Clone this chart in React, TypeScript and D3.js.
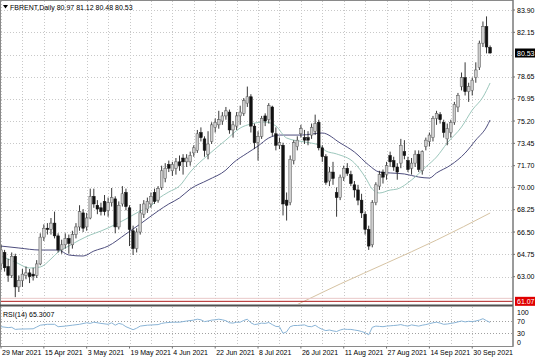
import React from "react";
import * as d3 from "d3";

// ---------- DATA ----------
const symbolTitle = "FBRENT,Daily 80.97 81.12 80.48 80.53";
const rsiTitle = "RSI(14) 65.3007";

const dateLabels = ["29 Mar 2021", "15 Apr 2021", "3 May 2021", "19 May 2021", "4 Jun 2021", "22 Jun 2021", "8 Jul 2021", "26 Jul 2021", "11 Aug 2021", "27 Aug 2021", "14 Sep 2021", "30 Sep 2021"];
const dateLabelBars = [0, 12, 24, 36, 48, 60, 72, 84, 96, 108, 120, 132];

const priceTicks = [83.9, 82.15, 78.65, 76.95, 75.2, 73.45, 71.7, 70.0, 68.25, 66.5, 64.75, 63.0];
const priceGridExtra = [80.4];
const lastPrice = 80.53;
const levelPrice = 61.07;
const rsiTicks = [100, 70, 30, 0];
const rsiLevels = [70, 30];

const opens = [64.0, 64.9, 63.8, 63.1, 64.6, 62.2, 62.7, 63.1, 63.3, 63.2,
  63.1, 64.0, 66.1, 66.8, 66.7, 67.2, 66.2, 65.1, 65.5, 66.0,
  65.5, 66.3, 66.9, 68.0, 66.9, 67.6, 69.3, 68.6, 68.4, 68.9,
  68.2, 68.8, 69.1, 66.9, 68.7, 69.6, 68.4, 66.6, 65.2, 66.5,
  67.9, 68.3, 68.7, 69.6, 69.0, 70.0, 70.7, 71.8, 71.3, 71.5,
  72.0, 72.3, 72.0, 72.0, 72.7, 72.9, 74.3, 73.8, 72.6, 73.6,
  74.7, 74.9, 75.2, 75.6, 75.9, 74.5, 74.8, 75.6, 75.8, 76.6,
  77.1, 74.8, 73.5, 74.0, 75.6, 75.3, 76.3, 74.2, 73.3, 73.3,
  69.0, 68.8, 72.1, 73.2, 74.2, 73.9, 73.9, 74.1, 74.4, 75.1,
  73.1, 72.4, 70.5, 71.2, 69.6, 69.2, 70.8, 71.5, 71.0, 70.2,
  69.8, 69.0, 67.9, 66.7, 65.5, 68.8, 70.1, 71.2, 71.0, 72.5,
  72.1, 71.6, 71.9, 72.8, 72.1, 71.5, 71.9, 72.6, 71.3, 73.2,
  73.6, 73.9, 75.4, 75.7, 75.1, 73.8, 74.3, 75.1, 76.3, 77.9,
  78.6, 77.5, 77.6, 78.6, 79.4, 81.3, 82.6, 80.97];
const highs = [65.5, 65.1, 64.4, 64.9, 64.8, 63.1, 63.6, 63.8, 63.6, 63.7,
  64.3, 66.4, 67.1, 67.2, 67.6, 68.1, 66.4, 65.9, 66.4, 66.3,
  66.6, 67.2, 68.6, 68.3, 68.0, 69.9, 69.9, 69.0, 68.8, 69.4,
  69.2, 69.95, 69.3, 68.9, 70.1, 69.9, 68.6, 67.0, 66.8, 68.7,
  69.0, 69.2, 69.6, 69.9, 70.1, 71.7, 71.9, 72.1, 72.0, 72.3,
  72.5, 72.6, 72.6, 72.8, 73.3, 74.5, 74.7, 74.0, 74.4, 75.1,
  75.4, 76.0, 75.9, 76.3, 76.1, 75.2, 75.9, 76.4, 77.0, 77.9,
  77.3, 75.0, 74.4, 75.6, 75.8, 76.6, 76.4, 74.7, 73.9, 73.5,
  69.6, 72.5, 73.7, 74.0, 74.9, 74.5, 74.4, 75.0, 75.7, 75.3,
  73.3, 72.6, 71.6, 72.0, 70.0, 71.0, 71.7, 71.9, 71.3, 70.5,
  70.2, 69.5, 68.1, 67.0, 69.0, 70.4, 71.3, 71.4, 72.0, 72.8,
  72.4, 71.9, 73.8, 73.7, 72.4, 72.3, 72.9, 72.9, 72.9, 73.9,
  74.3, 75.6, 76.0, 75.9, 75.3, 75.0, 75.3, 76.7, 77.4, 79.0,
  79.8, 78.2, 78.6, 79.8, 81.5, 83.0, 83.4, 81.12];
const lows = [63.5, 63.4, 62.6, 62.9, 61.4, 61.8, 62.2, 62.8, 62.5, 62.7,
  62.9, 63.9, 65.8, 66.3, 66.3, 66.0, 64.9, 64.8, 65.2, 64.8,
  65.2, 66.0, 66.6, 66.5, 66.6, 67.5, 68.4, 67.9, 67.8, 67.8,
  67.7, 68.5, 66.4, 66.7, 68.5, 68.2, 65.4, 64.7, 64.9, 66.3,
  67.6, 68.0, 68.4, 68.7, 68.8, 69.8, 70.4, 71.2, 70.9, 71.0,
  71.3, 71.0, 71.6, 71.7, 72.4, 72.7, 73.6, 72.4, 72.2, 73.4,
  74.3, 74.6, 74.9, 75.3, 74.2, 73.9, 74.5, 74.9, 75.6, 76.3,
  74.3, 73.0, 72.1, 73.8, 74.8, 75.0, 74.0, 72.9, 73.0, 67.8,
  67.4, 68.6, 71.8, 72.9, 73.9, 73.4, 73.3, 73.8, 74.1, 72.9,
  72.0, 70.2, 70.1, 70.2, 67.7, 69.0, 70.5, 70.9, 70.1, 69.2,
  68.6, 67.6, 66.3, 65.1, 65.3, 68.6, 69.8, 70.3, 70.6, 71.6,
  71.3, 70.6, 71.5, 72.2, 71.2, 71.0, 71.6, 71.2, 71.0, 72.9,
  73.2, 73.6, 74.9, 75.0, 73.9, 73.3, 73.9, 74.9, 75.9, 77.6,
  77.2, 76.7, 77.2, 78.2, 79.2, 81.0, 80.5, 80.48];
const closes = [65.1, 63.7, 63.1, 64.6, 62.2, 62.7, 63.2, 63.3, 63.0, 63.05,
  64.0, 66.1, 66.8, 66.7, 67.2, 66.2, 65.1, 65.5, 66.0, 65.6,
  66.3, 66.9, 68.1, 66.8, 67.6, 69.3, 68.7, 68.3, 68.1, 68.1,
  68.8, 69.2, 66.9, 68.6, 69.5, 68.5, 66.7, 65.2, 66.5, 68.0,
  68.7, 68.9, 69.3, 68.9, 69.9, 71.3, 71.5, 71.5, 71.8, 72.0,
  71.7, 72.0, 72.3, 72.5, 73.1, 74.2, 73.9, 72.9, 73.4, 74.9,
  75.1, 75.3, 75.6, 76.0, 74.5, 74.9, 75.6, 75.9, 76.8, 77.1,
  74.8, 73.5, 74.0, 75.4, 75.2, 76.4, 74.3, 73.3, 73.5, 68.7,
  68.6, 72.2, 73.5, 73.7, 74.6, 73.7, 73.7, 74.7, 75.0, 73.1,
  72.4, 70.4, 71.2, 70.7, 69.2, 70.8, 71.5, 71.1, 70.3, 69.8,
  69.0, 68.0, 66.7, 65.4, 68.8, 70.2, 71.0, 70.8, 71.7, 72.0,
  71.6, 71.2, 73.3, 72.5, 71.4, 71.9, 72.6, 71.4, 72.8, 73.7,
  74.1, 75.4, 75.8, 75.3, 74.3, 74.6, 75.1, 76.5, 77.2, 78.6,
  77.5, 77.9, 78.4, 79.2, 81.3, 82.6, 81.0, 80.53];

// fast moving average (light line), bar index / value
const fastBars = [0, 4, 8, 11, 14, 16, 19, 22, 25, 28, 30, 35, 39, 42, 44, 47, 50, 53, 58, 63, 67, 70, 74, 77, 80, 85, 89, 91, 94, 99, 102, 104, 106, 109, 111, 115, 119, 122, 125, 129, 132, 135, 137];
const fastVals = [64.62, 64.15, 63.68, 63.76, 64.39, 64.93, 65.4, 65.87, 66.27, 66.58, 66.82, 67.52, 68.15, 68.54, 69.09, 69.64, 70.11, 71.2, 72.54, 73.71, 74.65, 74.97, 75.12, 74.81, 73.87, 73.56, 73.32, 72.85, 72.62, 71.91, 70.81, 69.87, 69.56, 69.79, 69.87, 70.58, 71.6, 72.38, 73.48, 74.73, 76.06, 77.08, 78.18];
// slow moving average (dark line)
const slowBars = [0, 5, 11, 16, 19, 23, 26, 30, 35, 39, 44, 47, 50, 53, 58, 63, 65, 69, 72, 75, 78, 84, 90, 95, 99, 103, 106, 109, 113, 117, 120, 122, 126, 130, 133, 136, 137];
const slowVals = [65.4, 65.25, 65.09, 65.09, 64.7, 64.62, 65.01, 65.4, 66.35, 67.13, 68.15, 68.7, 69.17, 69.87, 70.58, 71.36, 71.91, 72.69, 73.24, 73.87, 74.1, 74.1, 74.26, 73.48, 72.77, 71.75, 71.2, 71.13, 71.05, 70.81, 70.73, 71.13, 71.75, 72.69, 73.71, 74.73, 75.28];
// long moving average (tan line)
const longBars = [80, 85, 95, 108, 122, 137];
const longVals = [60.41, 61.09, 62.43, 64.07, 65.87, 67.99];

// RSI(14)
const rsiBars = [0, 2, 3, 4, 5, 9, 10, 11, 13, 15, 16, 18, 20, 22, 24, 25, 26, 28, 30, 31, 32, 33, 34, 35, 37, 38, 39, 41, 44, 45, 46, 48, 50, 52, 54, 55, 56, 57, 58, 59, 60, 61, 62, 63, 64, 65, 66, 67, 68, 69, 70, 71, 72, 73, 74, 75, 76, 77, 78, 79, 80, 81, 82, 83, 84, 85, 86, 87, 88, 89, 90, 91, 92, 93, 94, 95, 96, 97, 98, 99, 100, 101, 102, 103, 104, 105, 106, 107, 108, 109, 110, 111, 112, 113, 114, 115, 116, 117, 118, 119, 120, 121, 122, 123, 124, 125, 126, 127, 128, 129, 130, 131, 132, 133, 134, 135, 136, 137];
const rsiVals = [51, 48, 49, 42, 43, 44, 50, 56, 59, 59, 51, 53, 56, 59, 64, 62, 66, 62, 59, 64, 56, 62, 59, 51, 41, 46, 53, 56, 58, 62, 64, 66, 66, 70, 73, 76, 74, 68, 70, 73, 74, 76, 74, 71, 64, 63, 66, 66, 72, 76, 64, 58, 60, 63, 62, 65, 58, 52, 51, 29, 34, 51, 55, 55, 56, 57, 52, 51, 56, 48, 42, 38, 40, 37, 35, 40, 43, 42, 42, 40, 38, 35, 31, 24, 49, 53, 52, 51, 53, 54, 55, 56, 58, 55, 53, 57, 55, 53, 56, 58, 61, 64, 66, 63, 59, 60, 62, 64, 67, 70, 67, 69, 68, 70, 73, 77.7, 71, 65.3];

// ---------- CHART ----------
const FONT = "'Liberation Sans', Arial, sans-serif";

export default function App() {
  const W = 536, H = 357;
  const frameRight = 513;
  const mainTop = 1, mainBottom = 304;
  const rsiTop = 307, rsiBottom = 346.5;
  const nBars = closes.length;

  const x = d3.scaleLinear().domain([0, nBars - 1]).range([1, 1 + 3.57 * (nBars - 1)]);
  const y = d3.scaleLinear().domain([63.0, 83.9]).range([276.7, 10]);
  const yr = d3.scaleLinear().domain([0, 100]).range([342, 312]);

  const gridBars = d3.range(0, nBars, 6);
  const bodyW = 2.7;

  const maLine = d3.line<[number, number]>()
    .x((d) => x(d[0]))
    .y((d) => y(d[1]))
    .curve(d3.curveMonotoneX);
  const rsiLine = d3.line<[number, number]>()
    .x((d) => x(d[0]))
    .y((d) => yr(d[1]));

  const fastPts: [number, number][] = fastBars.map((b, i) => [b, fastVals[i]]);
  const slowPts: [number, number][] = slowBars.map((b, i) => [b, slowVals[i]]);
  const longPts: [number, number][] = longBars.map((b, i) => [b, longVals[i]]);
  const rsiPts: [number, number][] = rsiBars.map((b, i) => [b, rsiVals[i]]);

  const grid = "#c8c8c8";

  return (
    <svg width={W} height={H} style={{ position: "absolute", left: 0, top: 0, background: "#fff" }} fontFamily={FONT}>
      <defs>
        <clipPath id="mainClip">
          <rect x={1} y={mainTop} width={frameRight - 1} height={mainBottom - mainTop} />
        </clipPath>
        <clipPath id="rsiClip">
          <rect x={1} y={rsiTop} width={frameRight - 1} height={rsiBottom - rsiTop} />
        </clipPath>
      </defs>
      <rect x={0} y={0} width={W} height={H} fill="#fff" />

      {/* grid: main */}
      <g stroke={grid} strokeWidth={1} strokeDasharray="1,2" shapeRendering="crispEdges">
        {[...priceTicks, ...priceGridExtra].map((p) => (
          <line key={"hg" + p} x1={1} x2={frameRight} y1={Math.round(y(p)) + 0.5} y2={Math.round(y(p)) + 0.5} />
        ))}
        {gridBars.map((b) => (
          <line key={"vg" + b} x1={Math.round(x(b)) + 0.5} x2={Math.round(x(b)) + 0.5} y1={mainTop} y2={mainBottom} />
        ))}
        {gridBars.map((b) => (
          <line key={"vr" + b} x1={Math.round(x(b)) + 0.5} x2={Math.round(x(b)) + 0.5} y1={rsiTop} y2={rsiBottom} />
        ))}
        {rsiLevels.map((v) => (
          <line key={"rl" + v} x1={1} x2={frameRight} y1={Math.round(yr(v)) + 0.5} y2={Math.round(yr(v)) + 0.5} stroke="#a0a0a0" />
        ))}
      </g>

      {/* moving averages */}
      <g clipPath="url(#mainClip)" fill="none">
        <path d={maLine(longPts) || ""} stroke="#d6c3a3" strokeWidth={1} />
        <path d={maLine(slowPts) || ""} stroke="#4e4e7e" strokeWidth={1} />
        <path d={maLine(fastPts) || ""} stroke="#9cc7bc" strokeWidth={1} />
      </g>

      {/* level line */}
      <line x1={1} x2={frameRight} y1={y(levelPrice) - 3} y2={y(levelPrice) - 3} stroke="#e8c8c8" strokeWidth={1} />
      <line x1={1} x2={frameRight} y1={y(levelPrice)} y2={y(levelPrice)} stroke="#b02020" strokeWidth={1} />

      {/* candles */}
      <g clipPath="url(#mainClip)">
        {closes.map((c, i) => {
          const o = opens[i];
          const bull = c >= o;
          const cx = x(i);
          const top = y(Math.max(o, c));
          const bot = y(Math.min(o, c));
          return (
            <g key={"c" + i}>
              <line x1={cx} x2={cx} y1={y(highs[i])} y2={y(lows[i])} stroke="#222" strokeWidth={0.9} />
              <rect
                x={cx - bodyW / 2}
                y={top}
                width={bodyW}
                height={Math.max(0.8, bot - top)}
                fill={bull ? "#cfcfcf" : "#111"}
                stroke={bull ? "#555" : "#111"}
                strokeWidth={0.5}
              />
            </g>
          );
        })}
      </g>

      {/* RSI line */}
      <g clipPath="url(#rsiClip)">
        <path d={rsiLine(rsiPts) || ""} fill="none" stroke="#8ab4d6" strokeWidth={1} />
      </g>

      {/* frame & separators */}
      <rect x={0.5} y={0.5} width={frameRight - 0.5} height={rsiBottom - 0.5} fill="none" stroke="#8a8a8a" strokeWidth={1} />
      <line x1={0} x2={frameRight} y1={305.5} y2={305.5} stroke="#505050" strokeWidth={2} />
      <line x1={frameRight} x2={frameRight} y1={0} y2={rsiBottom} stroke="#707070" strokeWidth={1} />

      {/* title */}
      <path d="M3,5 L8,5 L5.5,8.5 Z" fill="#000" />
      <text x={10} y={9.5} fontSize={7} fill="#000">{symbolTitle}</text>
      <text x={3} y={317} fontSize={7} fill="#000">{rsiTitle}</text>

      {/* price axis */}
      <g fontSize={7} fill="#000">
        {priceTicks.map((p) => (
          <g key={"pt" + p}>
            <line x1={frameRight} x2={frameRight + 2} y1={y(p)} y2={y(p)} stroke="#707070" />
            <text x={frameRight + 4} y={y(p) + 2.5}>{p.toFixed(2)}</text>
          </g>
        ))}
        {rsiTicks.map((v) => (
          <text key={"rt" + v} x={frameRight + 4} y={yr(v) + 2.5}>{v}</text>
        ))}
      </g>
      <rect x={frameRight + 2} y={y(lastPrice) - 4.5} width={20} height={9} fill="#000" />
      <text x={frameRight + 4} y={y(lastPrice) + 2.5} fontSize={7} fill="#fff">{lastPrice.toFixed(2)}</text>
      <rect x={frameRight + 2} y={y(levelPrice) - 4.5} width={20} height={9} fill="#e00000" />
      <text x={frameRight + 4} y={y(levelPrice) + 2.5} fontSize={7} fill="#fff">{levelPrice.toFixed(2)}</text>

      {/* date axis */}
      <g fontSize={7} fill="#000">
        {dateLabelBars.map((b, i) => (
          <g key={"dl" + b}>
            <line x1={x(b)} x2={x(b)} y1={rsiBottom} y2={rsiBottom + 2} stroke="#707070" />
            <text x={x(b) + 1} y={355}>{dateLabels[i]}</text>
          </g>
        ))}
      </g>
    </svg>
  );
}
